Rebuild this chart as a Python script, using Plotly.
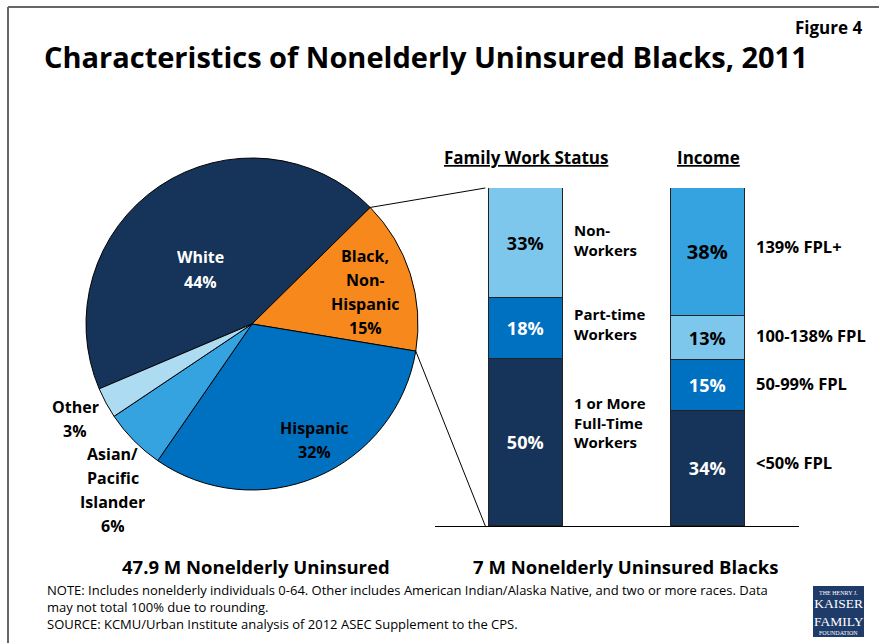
import math
import plotly.graph_objects as go

W, H = 879, 643

# ---------------- data ----------------
pie_labels = ["White", "Black, Non-Hispanic", "Hispanic", "Asian/Pacific Islander", "Other"]
pie_values = [44, 15, 32, 6, 3]
pie_colors = ["#163459", "#F7891C", "#0070C0", "#35A3E0", "#ADDCF2"]

work_cats = ["1 or More Full-Time Workers", "Part-time Workers", "Non-Workers"]
work_values = [50, 18, 33]
work_colors = ["#163459", "#0070C0", "#7DC7ED"]
work_text_colors = ["white", "white", "black"]

income_cats = ["<50% FPL", "50-99% FPL", "100-138% FPL", "139% FPL+"]
income_values = [34, 15, 13, 38]
income_colors = ["#163459", "#0070C0", "#7DC7ED", "#35A3E0"]
income_text_colors = ["white", "white", "black", "black"]

bar_groups = ["Family Work Status", "Income"]

FONT = "Open Sans"


def px(x):
    return x / W


def py(y):
    return 1 - y / H


fig = go.Figure()

# ---------------- pie ----------------
pie_x0, pie_x1, pie_y0, pie_y1 = 86, 418, 157, 491
rotation = 247
fig.add_trace(go.Pie(
    labels=pie_labels, values=pie_values, sort=False, direction="clockwise",
    rotation=rotation, textinfo="none", hoverinfo="label+percent",
    marker=dict(colors=pie_colors, line=dict(color="black", width=1)),
    domain=dict(x=[px(pie_x0), px(pie_x1)], y=[py(pie_y1), py(pie_y0)]),
    showlegend=False,
))

# ---------------- bars ----------------
bw = 0.405
for cat, v, c, tc in zip(work_cats, work_values, work_colors, work_text_colors):
    fig.add_trace(go.Bar(
        x=[bar_groups[0]], y=[v], name=cat, width=bw, yaxis="y",
        marker=dict(color=c, line=dict(color="#222", width=1)),
        text=[f"{v}%"], textposition="inside", insidetextanchor="middle", textangle=0,
        textfont=dict(family=FONT, size=18, color=tc, weight=700),
        showlegend=False,
    ))
for cat, v, c, tc in zip(income_cats, income_values, income_colors, income_text_colors):
    fig.add_trace(go.Bar(
        x=[bar_groups[1]], y=[v], name=cat, width=bw, yaxis="y2",
        marker=dict(color=c, line=dict(color="#222", width=1)),
        text=[f"{v}%"], textposition="inside", insidetextanchor="middle", textangle=0,
        textfont=dict(family=FONT, size=20 if v == max(income_values) else 18, color=tc, weight=700),
        showlegend=False,
    ))

xdom_px = (434.75, 799.25)
ydom = [py(526), py(188)]
fig.update_layout(
    width=W, height=H, autosize=False,
    margin=dict(l=0, r=0, t=0, b=0),
    paper_bgcolor="white", plot_bgcolor="rgba(0,0,0,0)",
    barmode="stack", bargap=0,
    xaxis=dict(domain=[px(xdom_px[0]), px(xdom_px[1])], type="category", range=[-0.5, 1.5],
               showticklabels=False, ticks="", showgrid=False, zeroline=False,
               showline=True, linecolor="black", linewidth=1, anchor="y", fixedrange=True),
    yaxis=dict(domain=ydom, range=[0, sum(work_values)], visible=False, fixedrange=True),
    yaxis2=dict(domain=ydom, range=[0, sum(income_values)], visible=False,
                overlaying="y", anchor="x", fixedrange=True),
)

# ---------------- connector lines (computed from pie geometry) ----------------
cx = (pie_x0 + pie_x1) / 2
cy = (pie_y0 + pie_y1) / 2
r = min(pie_x1 - pie_x0, pie_y1 - pie_y0) / 2
tot = sum(pie_values)
a_start = math.radians(rotation + 360 * pie_values[0] / tot)
a_end = math.radians(rotation + 360 * (pie_values[0] + pie_values[1]) / tot)
p1 = (cx + r * math.sin(a_start), cy - r * math.cos(a_start))
p2 = (cx + r * math.sin(a_end), cy - r * math.cos(a_end))
cat_px = (xdom_px[1] - xdom_px[0]) / 2
x_end = xdom_px[0] + (0.5 - bw / 2 - 0.02) * cat_px
fig.add_shape(type="line", xref="paper", yref="paper", x0=px(p1[0]), y0=py(p1[1]),
              x1=px(x_end), y1=ydom[1], line=dict(color="black", width=1))
fig.add_shape(type="line", xref="paper", yref="paper", x0=px(p2[0]), y0=py(p2[1]),
              x1=px(x_end), y1=ydom[0], line=dict(color="black", width=1))

# ---------------- frame ----------------
fig.add_shape(type="line", xref="paper", yref="paper", x0=px(8), y0=py(7), x1=1, y1=py(7),
              line=dict(color="#666", width=2))
fig.add_shape(type="line", xref="paper", yref="paper", x0=px(8), y0=py(7), x1=px(8), y1=0,
              line=dict(color="#666", width=2))


def ann(x, y, text, size, color="black", xanchor="center", align="center", weight=700,
        family=FONT, height=None, **kw):
    fig.add_annotation(x=px(x), y=py(y), xref="paper", yref="paper", text=text,
                       showarrow=False, xanchor=xanchor, yanchor="middle", align=align,
                       height=height,
                       font=dict(family=family, size=size, color=color, weight=weight, **kw))


def lines(x, ys, texts, size, color="black", xanchor="center"):
    for yy, t in zip(ys, texts):
        ann(x, yy, t, size, color=color, xanchor=xanchor, height=20)


# titles
ann(864, 28, "Figure 4", 17, xanchor="right")
ann(426, 56, "Characteristics of Nonelderly Uninsured Blacks, 2011", 29)

# pie labels
lines(200, [257, 282], ["White", "44%"], 16, color="white")
lines(365, [256, 280, 304, 328], ["Black,", "Non-", "Hispanic", "15%"], 16)
lines(314, [428, 452], ["Hispanic", "32%"], 16)
lines(75, [407, 431], ["Other", "3%"], 16)
lines(113, [454, 478, 502, 526], ["Asian/", "Pacific", "Islander", "6%"], 16)

# bar headers
ann(526, 158, bar_groups[0], 17, lineposition="under")
ann(708, 158, bar_groups[1], 17, lineposition="under")

# work status labels
ann(572, 239.5, "Non-<br>Workers", 15, xanchor="left", align="left")
ann(572, 324.5, "Part-time<br>Workers", 15, xanchor="left", align="left")
ann(572, 422, "1 or More<br>Full-Time<br>Workers", 15, xanchor="left", align="left")

# income labels
for yy, t in zip([462, 383, 335, 246], income_cats):
    ann(754, yy, t.replace("<", "&lt;"), 16.5, xanchor="left")

# bottom captions
ann(256, 566, "47.9 M Nonelderly Uninsured", 18.5)
ann(625, 566, "7 M Nonelderly Uninsured Blacks", 18.5)

note = ("NOTE: Includes nonelderly individuals 0-64. Other includes American Indian/Alaska Native, "
        "and two or more races. Data<br>may not total 100% due to rounding.<br>"
        "SOURCE: KCMU/Urban Institute analysis of 2012 ASEC Supplement to the CPS.")
ann(45, 607, note, 13, xanchor="left", align="left", weight=400)

# logo
fig.add_shape(type="rect", xref="paper", yref="paper", x0=px(813), x1=px(864), y0=py(637), y1=py(586),
              fillcolor="#1F3B6A", line=dict(width=0))
SERIF = "Liberation Serif"
ann(838.5, 592, "THE HENRY J.", 6, color="white", weight=400, family=SERIF, height=7)
ann(838.5, 612, "KAISER<br>FAMILY", 13.5, color="white", weight=400, family=SERIF)
ann(838.5, 632, "FOUNDATION", 6, color="white", weight=400, family=SERIF, height=7)

fig.write_html("out.html")
